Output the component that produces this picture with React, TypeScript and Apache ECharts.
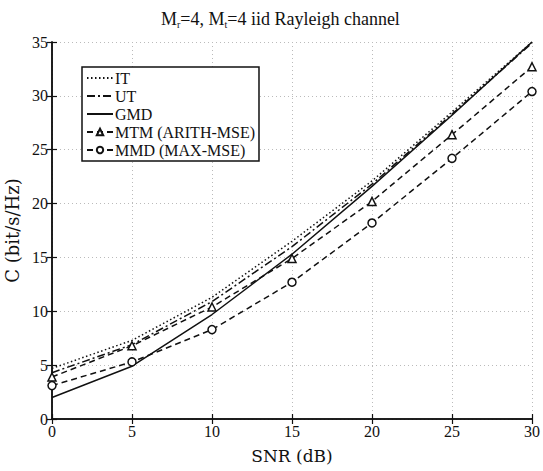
import React, { useEffect, useRef } from "react";
import * as echarts from "echarts";

const snr = [0, 5, 10, 15, 20, 25, 30];
const itVals = [4.7, 7.3, 11.3, 16.5, 22.1, 28.5, 35.0];
const utVals = [4.3, 6.9, 10.9, 16.0, 21.8, 28.3, 34.9];
const gmdVals = [2.0, 4.9, 9.7, 15.3, 21.6, 28.2, 35.0];
const mtmVals = [3.9, 6.8, 10.4, 14.9, 20.2, 26.4, 32.7];
const mmdVals = [3.1, 5.3, 8.3, 12.7, 18.2, 24.2, 30.4];
const seriesNames = ["IT", "UT", "GMD", "MTM (ARITH-MSE)", "MMD (MAX-MSE)"];

const FONT = "'Liberation Serif', 'Times New Roman', serif";
const NAME_FONT = "'DejaVu Serif', serif";

export default function App() {
  const ref = useRef<HTMLDivElement>(null);
  useEffect(() => {
    document.body.style.margin = "0";
    if (!ref.current) return;
    const chart = echarts.init(ref.current, null, { renderer: "svg" });
    const pair = (vals: number[]) => snr.map((x, i) => [x, vals[i]]);
    const baseLine = (name: string, vals: number[], type: any, symbol: string) => {
      const hasSym = symbol !== "none";
      return {
        name,
        type: "line",
        data: pair(vals),
        symbol,
        symbolSize: 8,
        showSymbol: hasSym,
        lineStyle: { color: "#111", width: 1.5, type },
        itemStyle: hasSym
          ? { color: "#fff", borderColor: "#111", borderWidth: 1.5 }
          : { color: "transparent", borderColor: "transparent", borderWidth: 0 },
        z: 3,
      };
    };
    const axisCommon = {
      axisLine: { show: true, lineStyle: { color: "#111", width: 1.5 } },
      axisTick: { show: true, inside: true, length: 5, lineStyle: { color: "#111", width: 1.2 } },
    };
    chart.setOption({
      animation: false,
      backgroundColor: "#fff",
      title: {
        text: "M{s|r}=4, M{s|t}=4 iid Rayleigh channel",
        left: 156,
        top: 4,
        textStyle: {
          fontFamily: FONT,
          fontSize: 18,
          fontWeight: "normal",
          color: "#111",
          rich: {
            s: { fontFamily: FONT, fontSize: 10, color: "#111", padding: [10, 0, 0, 0] },
          },
        },
      },
      legend: {
        data: seriesNames,
        orient: "vertical",
        left: 82,
        top: 67,
        padding: [2, 4, 2, 4],
        itemGap: 0,
        itemWidth: 26,
        itemHeight: 8,
        borderColor: "#111",
        borderWidth: 1.5,
        backgroundColor: "#fff",
        textStyle: { fontFamily: FONT, fontSize: 16, lineHeight: 18, color: "#111", padding: [0, 0, 0, -3] },
      },
      grid: { left: 52, right: 11, top: 42, bottom: 52, outerBoundsMode: "none", containLabel: false },
      xAxis: [
        {
          type: "value",
          min: 0,
          max: 30,
          interval: 5,
          name: "SNR (dB)",
          nameLocation: "middle",
          nameGap: 28,
          nameTextStyle: { fontFamily: NAME_FONT, fontSize: 17, color: "#111" },
          axisLabel: { fontFamily: FONT, fontSize: 16, color: "#111", margin: 4 },
          splitLine: { show: true, lineStyle: { color: "#bbb", type: [1, 3], width: 1 } },
          ...axisCommon,
        },
        {
          type: "value",
          position: "top",
          min: 0,
          max: 30,
          interval: 5,
          axisLabel: { show: false },
          splitLine: { show: false },
          ...axisCommon,
        },
      ],
      yAxis: [
        {
          type: "value",
          min: 0,
          max: 35,
          interval: 5,
          name: "C (bit/s/Hz)",
          nameLocation: "middle",
          nameGap: 24,
          nameTextStyle: { fontFamily: NAME_FONT, fontSize: 18, color: "#111" },
          axisLabel: { fontFamily: FONT, fontSize: 16, color: "#111", margin: 4 },
          splitLine: { show: true, lineStyle: { color: "#bbb", type: [1, 3], width: 1 } },
          ...axisCommon,
        },
        {
          type: "value",
          position: "right",
          min: 0,
          max: 35,
          interval: 5,
          axisLabel: { show: false },
          splitLine: { show: false },
          ...axisCommon,
        },
      ],
      series: [
        baseLine(seriesNames[0], itVals, [1.5, 2.5], "none"),
        baseLine(seriesNames[1], utVals, [8, 3, 2, 3], "none"),
        baseLine(seriesNames[2], gmdVals, "solid", "none"),
        baseLine(seriesNames[3], mtmVals, [6, 4], "triangle"),
        baseLine(seriesNames[4], mmdVals, [6, 4], "circle"),
      ],
    });
    return () => chart.dispose();
  }, []);
  return <div ref={ref} style={{ width: 543, height: 471 }} />;
}
